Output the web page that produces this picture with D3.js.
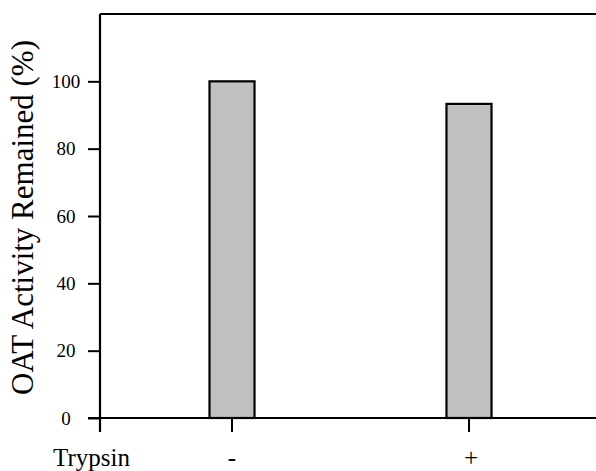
<!DOCTYPE html>
<html>
<head>
<meta charset="utf-8">
<script src="https://cdn.jsdelivr.net/npm/d3@7"></script>
<style>
  html, body { margin: 0; padding: 0; background: #fff; }
  svg { display: block; }
  text { font-family: "Liberation Serif", "Times New Roman", serif; fill: #000; }
</style>
</head>
<body>
<script>
const categories = ["-", "+"];
const values = [100, 93.3];
const yTicks = [0, 20, 40, 60, 80, 100];
const xLabel = "Trypsin";
const yLabel = "OAT Activity Remained (%)";

const W = 596, H = 471;
const svg = d3.select("body").append("svg").attr("width", W).attr("height", H);

const y = d3.scaleLinear().domain([0, 120]).range([418, 14]);
const x = d3.scaleBand().domain(categories).range([105, 596]).paddingInner(0.81).paddingOuter(0.4409);

const axisX = 100;

// bars
svg.append("g").selectAll("rect").data(values).join("rect")
  .attr("x", (d, i) => x(categories[i]))
  .attr("width", x.bandwidth())
  .attr("y", d => y(d))
  .attr("height", d => y(0) - y(d))
  .attr("fill", "#c0c0c0")
  .attr("stroke", "#000")
  .attr("stroke-width", 2.2);

// y axis
const yAxis = d3.axisLeft(y).tickValues(yTicks).tickSize(12).tickSizeOuter(0).tickPadding(22);
const gy = svg.append("g").attr("transform", `translate(${axisX},0)`).call(yAxis);
gy.select(".domain").remove();
gy.selectAll(".tick line").attr("stroke", "#000").attr("stroke-width", 2);
gy.selectAll(".tick text").attr("text-anchor", "middle").attr("x", -34)
  .style("font-family", "Liberation Serif").style("font-size", "19px");

// axis lines
svg.append("line").attr("x1", axisX).attr("x2", axisX).attr("y1", y(120)).attr("y2", y(0) + 14)
  .attr("stroke", "#000").attr("stroke-width", 2.2);
svg.append("line").attr("x1", axisX).attr("x2", W).attr("y1", y(120)).attr("y2", y(120))
  .attr("stroke", "#000").attr("stroke-width", 2.2);
svg.append("line").attr("x1", axisX - 12).attr("x2", W).attr("y1", y(0)).attr("y2", y(0))
  .attr("stroke", "#000").attr("stroke-width", 2.2);

// x axis ticks & labels
const xAxis = d3.axisBottom(x).tickSize(14).tickSizeOuter(0).tickPadding(16);
const gx = svg.append("g").attr("transform", `translate(0,${y(0)})`).call(xAxis);
gx.select(".domain").remove();
gx.selectAll(".tick line").attr("stroke", "#000").attr("stroke-width", 2);
gx.selectAll(".tick text").style("font-family", "Liberation Serif").style("font-size", "25px")
  .attr("dx", (d, i) => i === 1 ? 2 : 0);

svg.append("text").attr("x", 53).attr("y", 466).attr("text-anchor", "start")
  .style("font-size", "25px").text(xLabel);

svg.append("text")
  .attr("transform", `translate(33,${(38 + 397) / 2}) rotate(-90)`)
  .attr("text-anchor", "middle")
  .style("font-size", "31px")
  .text(yLabel);
</script>
</body>
</html>
